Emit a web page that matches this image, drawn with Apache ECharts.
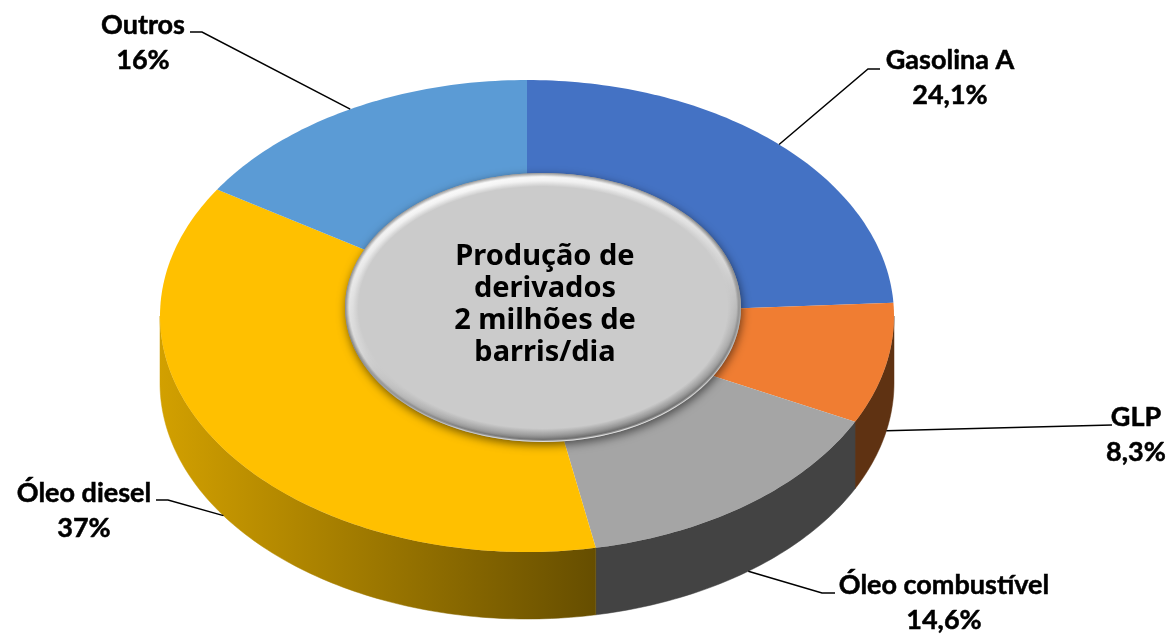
<!DOCTYPE html>
<html>
<head>
<meta charset="utf-8">
<style>
    html, body { margin: 0; padding: 0; background: #fff; }
    #main { width: 1170px; height: 634px; }
</style>
<script src="https://cdn.jsdelivr.net/npm/echarts@6/dist/echarts.min.js"></script>
</head>
<body>
<div id="main"></div>
<script>
// dados
var names = ['Gasolina A', 'GLP', 'Óleo combustível', 'Óleo diesel', 'Outros'];
var values = [24.1, 8.3, 14.6, 37, 16];
var centerLines = ['Produção de', 'derivados', '2 milhões de', 'barris/dia'];

// estilo
var topColors = ['#4472C4', '#F07D32', '#A5A5A5', '#FFC000', '#5B9BD5'];
var wallColors = ['#2A4478', '#5F3212', '#434343', null, '#375D80'];
var labelFont = 'Lato';
var centerFont = 'Noto Sans';

// geometria da "pizza" em perspectiva
var cx = 527, cy = 316, rx = 367, ry = 236, depth = 67;
var disc = { x: 543, y: 307.5, rx: 198, ry: 134.5, rim: 13 };

// cotovelo e fim da linha de chamada, centro do rotulo
var callouts = [
    { line: [[868, 69], [880, 69]], text: [950, 78] },
    { line: [[1112, 425]], text: [1136, 435] },
    { line: [[822, 593], [835, 593]], text: [944, 603] },
    { line: [[168, 500], [156, 500]], text: [84, 511] },
    { line: [[202, 32], [190, 32]], text: [143, 43] }
];

var total = values.reduce(function (a, b) { return a + b; }, 0);
var startAngles = [];
values.reduce(function (acc, v, i) {
    startAngles[i] = acc / total * 360;
    return acc + v;
}, 0);

function pointAt(deg, dy) {
    var a = deg * Math.PI / 180;
    return [cx + rx * Math.sin(a), cy - ry * Math.cos(a) + (dy || 0)];
}

function arcPoints(from, to, dy) {
    var pts = [];
    var n = Math.max(2, Math.ceil(Math.abs(to - from)));
    for (var i = 0; i <= n; i++) {
        pts.push(pointAt(from + (to - from) * i / n, dy));
    }
    return pts;
}

function wallFill(i) {
    if (wallColors[i]) return wallColors[i];
    return new echarts.graphic.LinearGradient(160, 0, 595, 0, [
        { offset: 0, color: '#D2A000' },
        { offset: 0.5, color: '#9C7700' },
        { offset: 1, color: '#664E00' }
    ], true);
}

function renderSlice(params, api) {
    var i = params.dataIndex;
    var from = startAngles[i];
    var to = from + api.value(0) / total * 360;
    var mid = (from + to) / 2;
    var children = [];

    // parede lateral, so a parte da frente aparece
    var wFrom = Math.max(from, 90), wTo = Math.min(to, 270);
    if (wFrom < wTo) {
        var fill = wallFill(i);
        children.push({
            type: 'polygon',
            shape: { points: arcPoints(wFrom, wTo, 0).concat(arcPoints(wTo, wFrom, depth)) },
            style: { fill: fill, stroke: fill, lineWidth: 0.5 }
        });
    }

    // topo
    children.push({
        type: 'polygon',
        shape: { points: [[cx, cy]].concat(arcPoints(from, to, 0)) },
        style: { fill: topColors[i] }
    });

    // linha de chamada
    var isFront = mid > 90 && mid < 270;
    var c = callouts[i];
    children.push({
        type: 'polyline',
        z2: 5,
        shape: { points: [pointAt(mid, isFront ? depth : 0)].concat(c.line) },
        style: { fill: null, stroke: '#000', lineWidth: 1.5 }
    });

    // rotulo
    children.push({
        type: 'text',
        z2: 6,
        style: {
            x: c.text[0],
            y: c.text[1],
            text: names[i] + '\n' + String(api.value(0)).replace('.', ',') + '%',
            align: 'center',
            verticalAlign: 'middle',
            font: 'bold 27px ' + labelFont,
            lineHeight: 35,
            fill: '#000',
            stroke: '#000',
            lineWidth: 0.5
        }
    });
    return { type: 'group', children: children };
}

function mix(c1, c2, t) {
    var r = [0, 1, 2].map(function (k) {
        return Math.round(c1[k] + (c2[k] - c1[k]) * t);
    });
    return 'rgb(' + r.join(',') + ')';
}

// cor do bisel: [t, cor] de fora para dentro
function rimColor(stops, t) {
    for (var i = 1; i < stops.length; i++) {
        if (t <= stops[i][0]) {
            return mix(stops[i - 1][1], stops[i][1], (t - stops[i - 1][0]) / (stops[i][0] - stops[i - 1][0]));
        }
    }
    return mix(stops[stops.length - 1][1], stops[stops.length - 1][1], 0);
}

var rimTop = [[0, [165, 165, 165]], [0.25, [250, 250, 250]], [0.55, [244, 244, 244]], [1, [203, 203, 203]]];
var rimSide = [[0, [135, 135, 135]], [0.3, [215, 215, 215]], [1, [203, 203, 203]]];
var rimBottom = [[0, [225, 225, 225]], [0.12, [105, 105, 105]], [0.45, [150, 150, 150]], [1, [203, 203, 203]]];

function renderDisc() {
    var children = [];
    children.push({
        type: 'ellipse',
        shape: { cx: disc.x, cy: disc.y, rx: disc.rx, ry: disc.ry },
        style: { fill: '#999', shadowBlur: 10, shadowColor: 'rgba(0,0,0,0.55)', shadowOffsetY: 3, shadowOffsetX: 1 }
    });
    for (var i = 0; i <= disc.rim; i++) {
        var t = i / disc.rim;
        children.push({
            type: 'ellipse',
            shape: { cx: disc.x, cy: disc.y, rx: disc.rx - i, ry: disc.ry - i },
            style: {
                fill: new echarts.graphic.LinearGradient(0.42, 0, 0.58, 1, [
                    { offset: 0, color: rimColor(rimTop, t) },
                    { offset: 0.5, color: rimColor(rimSide, t) },
                    { offset: 1, color: rimColor(rimBottom, t) }
                ])
            }
        });
    }
    children.push({
        type: 'text',
        z2: 5,
        style: {
            x: 545,
            y: 305,
            text: centerLines.join('\n'),
            align: 'center',
            verticalAlign: 'middle',
            font: 'bold 29px ' + centerFont,
            lineHeight: 32,
            fill: '#000'
        }
    });
    return { type: 'group', children: children };
}

var myChart = echarts.init(document.getElementById('main'), null, { renderer: 'canvas' });
var option = {
    backgroundColor: '#fff',
    animation: false,
    series: [
        {
            type: 'custom',
            coordinateSystem: 'none',
            name: 'Derivados',
            z: 2,
            renderItem: renderSlice,
            data: values.map(function (v, i) {
                return { name: names[i], value: v };
            })
        },
        {
            type: 'custom',
            coordinateSystem: 'none',
            name: 'Centro',
            z: 3,
            renderItem: renderDisc,
            data: [1]
        }
    ]
};
myChart.setOption(option);
</script>
</body>
</html>
